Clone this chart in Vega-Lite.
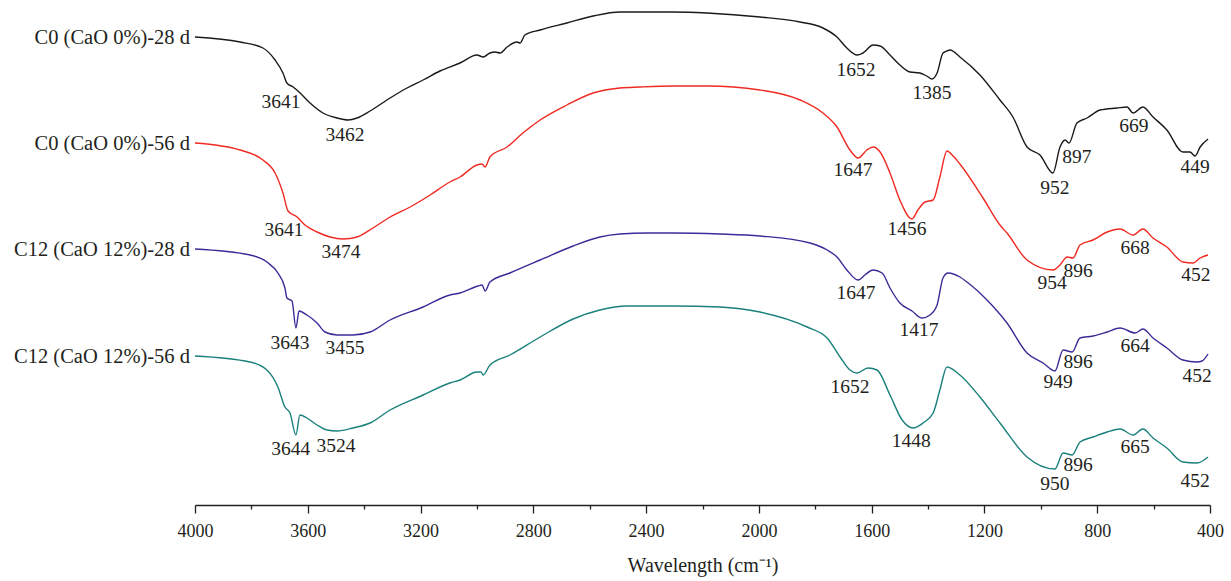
{
  "$schema": "https://vega.github.io/schema/vega-lite/v6.json",
  "autosize": {"type": "none"},
  "width": 1015,
  "height": 505,
  "padding": {"left": 195, "right": 21, "top": 0, "bottom": 76},
  "background": "white",
  "config": {"view": {"stroke": null}},
  "datasets": {
    "spectra": [
      {"s":"C0-28","x":4000,"v":37},{"s":"C0-28","x":3840,"v":42},{"s":"C0-28","x":3759,"v":48},{"s":"C0-28","x":3716,"v":60},{"s":"C0-28","x":3688,"v":73},{"s":"C0-28","x":3674,"v":83},{"s":"C0-28","x":3652,"v":87},{"s":"C0-28","x":3631,"v":92},{"s":"C0-28","x":3592,"v":103},{"s":"C0-28","x":3546,"v":113},{"s":"C0-28","x":3496,"v":118},{"s":"C0-28","x":3457,"v":120},{"s":"C0-28","x":3425,"v":118},{"s":"C0-28","x":3379,"v":111},{"s":"C0-28","x":3308,"v":98},{"s":"C0-28","x":3248,"v":88},{"s":"C0-28","x":3191,"v":80},{"s":"C0-28","x":3131,"v":71},{"s":"C0-28","x":3060,"v":63},{"s":"C0-28","x":3000,"v":55},{"s":"C0-28","x":2978,"v":57},{"s":"C0-28","x":2954,"v":53},{"s":"C0-28","x":2936,"v":52},{"s":"C0-28","x":2918,"v":53},{"s":"C0-28","x":2893,"v":47},{"s":"C0-28","x":2858,"v":42},{"s":"C0-28","x":2847,"v":43},{"s":"C0-28","x":2830,"v":35},{"s":"C0-28","x":2776,"v":30},{"s":"C0-28","x":2681,"v":23},{"s":"C0-28","x":2588,"v":16},{"s":"C0-28","x":2493,"v":12},{"s":"C0-28","x":2422,"v":12},{"s":"C0-28","x":2305,"v":12},{"s":"C0-28","x":2184,"v":13},{"s":"C0-28","x":1996,"v":17},{"s":"C0-28","x":1854,"v":22},{"s":"C0-28","x":1773,"v":28},{"s":"C0-28","x":1723,"v":37},{"s":"C0-28","x":1688,"v":48},{"s":"C0-28","x":1652,"v":55},{"s":"C0-28","x":1631,"v":53},{"s":"C0-28","x":1595,"v":45},{"s":"C0-28","x":1570,"v":46},{"s":"C0-28","x":1535,"v":55},{"s":"C0-28","x":1500,"v":65},{"s":"C0-28","x":1464,"v":72},{"s":"C0-28","x":1429,"v":73},{"s":"C0-28","x":1405,"v":76},{"s":"C0-28","x":1386,"v":79},{"s":"C0-28","x":1368,"v":73},{"s":"C0-28","x":1347,"v":53},{"s":"C0-28","x":1333,"v":51},{"s":"C0-28","x":1322,"v":50},{"s":"C0-28","x":1287,"v":57},{"s":"C0-28","x":1216,"v":75},{"s":"C0-28","x":1145,"v":100},{"s":"C0-28","x":1099,"v":117},{"s":"C0-28","x":1049,"v":147},{"s":"C0-28","x":1003,"v":155},{"s":"C0-28","x":957,"v":173},{"s":"C0-28","x":932,"v":147},{"s":"C0-28","x":914,"v":140},{"s":"C0-28","x":900,"v":143},{"s":"C0-28","x":872,"v":123},{"s":"C0-28","x":836,"v":118},{"s":"C0-28","x":790,"v":110},{"s":"C0-28","x":730,"v":108},{"s":"C0-28","x":694,"v":107},{"s":"C0-28","x":673,"v":113},{"s":"C0-28","x":638,"v":107},{"s":"C0-28","x":602,"v":117},{"s":"C0-28","x":553,"v":130},{"s":"C0-28","x":496,"v":152},{"s":"C0-28","x":471,"v":152},{"s":"C0-28","x":453,"v":156},{"s":"C0-28","x":435,"v":147},{"s":"C0-28","x":407,"v":139},

      {"s":"C0-56","x":4000,"v":143},{"s":"C0-56","x":3840,"v":150},{"s":"C0-56","x":3759,"v":160},{"s":"C0-56","x":3716,"v":173},{"s":"C0-56","x":3688,"v":193},{"s":"C0-56","x":3670,"v":211},{"s":"C0-56","x":3638,"v":217},{"s":"C0-56","x":3610,"v":225},{"s":"C0-56","x":3567,"v":232},{"s":"C0-56","x":3521,"v":237},{"s":"C0-56","x":3475,"v":239},{"s":"C0-56","x":3425,"v":237},{"s":"C0-56","x":3369,"v":228},{"s":"C0-56","x":3308,"v":217},{"s":"C0-56","x":3237,"v":207},{"s":"C0-56","x":3166,"v":195},{"s":"C0-56","x":3096,"v":182},{"s":"C0-56","x":3060,"v":177},{"s":"C0-56","x":3000,"v":165},{"s":"C0-56","x":2982,"v":164},{"s":"C0-56","x":2971,"v":167},{"s":"C0-56","x":2954,"v":157},{"s":"C0-56","x":2893,"v":147},{"s":"C0-56","x":2837,"v":133},{"s":"C0-56","x":2776,"v":120},{"s":"C0-56","x":2681,"v":105},{"s":"C0-56","x":2588,"v":93},{"s":"C0-56","x":2493,"v":88},{"s":"C0-56","x":2422,"v":87},{"s":"C0-56","x":2305,"v":86},{"s":"C0-56","x":2184,"v":86},{"s":"C0-56","x":1996,"v":90},{"s":"C0-56","x":1854,"v":100},{"s":"C0-56","x":1773,"v":113},{"s":"C0-56","x":1723,"v":127},{"s":"C0-56","x":1677,"v":150},{"s":"C0-56","x":1648,"v":158},{"s":"C0-56","x":1617,"v":150},{"s":"C0-56","x":1595,"v":147},{"s":"C0-56","x":1570,"v":152},{"s":"C0-56","x":1535,"v":173},{"s":"C0-56","x":1500,"v":200},{"s":"C0-56","x":1457,"v":219},{"s":"C0-56","x":1436,"v":210},{"s":"C0-56","x":1411,"v":202},{"s":"C0-56","x":1382,"v":200},{"s":"C0-56","x":1358,"v":177},{"s":"C0-56","x":1333,"v":151},{"s":"C0-56","x":1311,"v":156},{"s":"C0-56","x":1287,"v":164},{"s":"C0-56","x":1205,"v":198},{"s":"C0-56","x":1145,"v":225},{"s":"C0-56","x":1120,"v":233},{"s":"C0-56","x":1049,"v":260},{"s":"C0-56","x":957,"v":270},{"s":"C0-56","x":932,"v":265},{"s":"C0-56","x":907,"v":257},{"s":"C0-56","x":886,"v":258},{"s":"C0-56","x":861,"v":245},{"s":"C0-56","x":815,"v":240},{"s":"C0-56","x":765,"v":232},{"s":"C0-56","x":719,"v":229},{"s":"C0-56","x":673,"v":235},{"s":"C0-56","x":638,"v":229},{"s":"C0-56","x":602,"v":238},{"s":"C0-56","x":553,"v":247},{"s":"C0-56","x":496,"v":262},{"s":"C0-56","x":460,"v":263},{"s":"C0-56","x":435,"v":258},{"s":"C0-56","x":407,"v":255},

      {"s":"C12-28","x":4000,"v":249},{"s":"C12-28","x":3805,"v":255},{"s":"C12-28","x":3745,"v":262},{"s":"C12-28","x":3706,"v":273},{"s":"C12-28","x":3681,"v":288},{"s":"C12-28","x":3674,"v":298},{"s":"C12-28","x":3656,"v":301},{"s":"C12-28","x":3642,"v":328},{"s":"C12-28","x":3631,"v":311},{"s":"C12-28","x":3603,"v":315},{"s":"C12-28","x":3567,"v":323},{"s":"C12-28","x":3539,"v":332},{"s":"C12-28","x":3496,"v":335},{"s":"C12-28","x":3440,"v":335},{"s":"C12-28","x":3379,"v":332},{"s":"C12-28","x":3308,"v":320},{"s":"C12-28","x":3191,"v":307},{"s":"C12-28","x":3096,"v":295},{"s":"C12-28","x":3060,"v":293},{"s":"C12-28","x":2996,"v":286},{"s":"C12-28","x":2982,"v":285},{"s":"C12-28","x":2971,"v":291},{"s":"C12-28","x":2954,"v":282},{"s":"C12-28","x":2883,"v":273},{"s":"C12-28","x":2776,"v":260},{"s":"C12-28","x":2659,"v":246},{"s":"C12-28","x":2564,"v":237},{"s":"C12-28","x":2493,"v":234},{"s":"C12-28","x":2397,"v":233},{"s":"C12-28","x":2305,"v":233},{"s":"C12-28","x":2138,"v":234},{"s":"C12-28","x":1996,"v":236},{"s":"C12-28","x":1819,"v":243},{"s":"C12-28","x":1758,"v":250},{"s":"C12-28","x":1723,"v":257},{"s":"C12-28","x":1688,"v":270},{"s":"C12-28","x":1648,"v":280},{"s":"C12-28","x":1624,"v":275},{"s":"C12-28","x":1595,"v":270},{"s":"C12-28","x":1563,"v":273},{"s":"C12-28","x":1535,"v":288},{"s":"C12-28","x":1500,"v":303},{"s":"C12-28","x":1457,"v":311},{"s":"C12-28","x":1421,"v":318},{"s":"C12-28","x":1393,"v":315},{"s":"C12-28","x":1368,"v":305},{"s":"C12-28","x":1347,"v":278},{"s":"C12-28","x":1329,"v":273},{"s":"C12-28","x":1287,"v":277},{"s":"C12-28","x":1262,"v":282},{"s":"C12-28","x":1191,"v":300},{"s":"C12-28","x":1120,"v":323},{"s":"C12-28","x":1049,"v":353},{"s":"C12-28","x":992,"v":363},{"s":"C12-28","x":950,"v":371},{"s":"C12-28","x":921,"v":350},{"s":"C12-28","x":889,"v":352},{"s":"C12-28","x":861,"v":338},{"s":"C12-28","x":815,"v":336},{"s":"C12-28","x":765,"v":332},{"s":"C12-28","x":719,"v":328},{"s":"C12-28","x":665,"v":333},{"s":"C12-28","x":638,"v":329},{"s":"C12-28","x":602,"v":338},{"s":"C12-28","x":553,"v":348},{"s":"C12-28","x":496,"v":360},{"s":"C12-28","x":446,"v":362},{"s":"C12-28","x":428,"v":361},{"s":"C12-28","x":407,"v":354},

      {"s":"C12-56","x":4000,"v":356},{"s":"C12-56","x":3805,"v":362},{"s":"C12-56","x":3745,"v":370},{"s":"C12-56","x":3706,"v":387},{"s":"C12-56","x":3681,"v":407},{"s":"C12-56","x":3663,"v":413},{"s":"C12-56","x":3642,"v":435},{"s":"C12-56","x":3628,"v":415},{"s":"C12-56","x":3603,"v":418},{"s":"C12-56","x":3567,"v":425},{"s":"C12-56","x":3532,"v":430},{"s":"C12-56","x":3496,"v":431},{"s":"C12-56","x":3440,"v":428},{"s":"C12-56","x":3379,"v":423},{"s":"C12-56","x":3308,"v":410},{"s":"C12-56","x":3191,"v":395},{"s":"C12-56","x":3096,"v":383},{"s":"C12-56","x":3060,"v":380},{"s":"C12-56","x":3000,"v":372},{"s":"C12-56","x":2986,"v":372},{"s":"C12-56","x":2978,"v":375},{"s":"C12-56","x":2954,"v":365},{"s":"C12-56","x":2883,"v":355},{"s":"C12-56","x":2776,"v":337},{"s":"C12-56","x":2659,"v":319},{"s":"C12-56","x":2564,"v":310},{"s":"C12-56","x":2468,"v":306},{"s":"C12-56","x":2305,"v":306},{"s":"C12-56","x":2138,"v":307},{"s":"C12-56","x":1996,"v":312},{"s":"C12-56","x":1829,"v":327},{"s":"C12-56","x":1758,"v":338},{"s":"C12-56","x":1712,"v":357},{"s":"C12-56","x":1677,"v":370},{"s":"C12-56","x":1652,"v":373},{"s":"C12-56","x":1613,"v":368},{"s":"C12-56","x":1581,"v":370},{"s":"C12-56","x":1535,"v":395},{"s":"C12-56","x":1492,"v":420},{"s":"C12-56","x":1453,"v":428},{"s":"C12-56","x":1418,"v":423},{"s":"C12-56","x":1382,"v":413},{"s":"C12-56","x":1358,"v":390},{"s":"C12-56","x":1333,"v":367},{"s":"C12-56","x":1287,"v":375},{"s":"C12-56","x":1216,"v":397},{"s":"C12-56","x":1145,"v":423},{"s":"C12-56","x":1049,"v":457},{"s":"C12-56","x":950,"v":469},{"s":"C12-56","x":921,"v":453},{"s":"C12-56","x":889,"v":455},{"s":"C12-56","x":861,"v":442},{"s":"C12-56","x":815,"v":437},{"s":"C12-56","x":765,"v":432},{"s":"C12-56","x":719,"v":429},{"s":"C12-56","x":673,"v":435},{"s":"C12-56","x":638,"v":429},{"s":"C12-56","x":602,"v":438},{"s":"C12-56","x":553,"v":448},{"s":"C12-56","x":496,"v":462},{"s":"C12-56","x":446,"v":463},{"s":"C12-56","x":407,"v":457}
    ],
    "peaks": [
      {"t":"3641","x":3695,"v":102},{"t":"3462","x":3468,"v":135},{"t":"1652","x":1656,"v":70},{"t":"1385","x":1386,"v":93},{"t":"952","x":950,"v":188},{"t":"897","x":872,"v":157},{"t":"669","x":670,"v":126},{"t":"449","x":453,"v":167},
      {"t":"3641","x":3684,"v":230},{"t":"3474","x":3482,"v":252},{"t":"1647","x":1666,"v":170},{"t":"1456","x":1475,"v":229},{"t":"954","x":960,"v":283},{"t":"896","x":868,"v":271},{"t":"668","x":666,"v":248},{"t":"452","x":450,"v":275},
      {"t":"3643","x":3663,"v":343},{"t":"3455","x":3468,"v":348},{"t":"1647","x":1656,"v":293},{"t":"1417","x":1432,"v":330},{"t":"949","x":939,"v":382},{"t":"896","x":868,"v":362},{"t":"664","x":666,"v":346},{"t":"452","x":446,"v":376},
      {"t":"3644","x":3660,"v":449},{"t":"3524","x":3500,"v":446},{"t":"1652","x":1677,"v":387},{"t":"1448","x":1460,"v":441},{"t":"950","x":950,"v":484},{"t":"896","x":868,"v":465},{"t":"665","x":666,"v":447},{"t":"452","x":453,"v":481}
    ],
    "names": [
      {"name":"C0 (CaO 0%)-28 d","x":4000,"v":38},
      {"name":"C0 (CaO 0%)-56 d","x":4000,"v":144},
      {"name":"C12 (CaO 12%)-28 d","x":4000,"v":250},
      {"name":"C12 (CaO 12%)-56 d","x":4000,"v":357}
    ]
  },
  "layer": [
    {
      "data": {"name": "spectra"},
      "mark": {"type": "line", "strokeWidth": 1.4, "interpolate": "monotone", "clip": false},
      "encoding": {
        "x": {
          "field": "x", "type": "quantitative",
          "scale": {"domain": [400, 4000], "reverse": true, "nice": false, "zero": false},
          "axis": {
            "values": [4000,3800,3600,3400,3200,3000,2800,2600,2400,2200,2000,1800,1600,1400,1200,1000,800,600,400],
            "labelExpr": "datum.value % 400 === 0 ? datum.label : ''",
            "format": "d",
            "grid": false,
            "domainColor": "#231f20",
            "domainWidth": 1.3,
            "tickColor": "#231f20",
            "tickWidth": 1.3,
            "tickSize": {"condition": {"test": "datum.value % 400 === 0", "value": 8}, "value": 4},
            "labelFont": "Liberation Serif",
            "labelFontSize": 18,
            "labelColor": "#231f20",
            "labelPadding": 9,
            "labelFlush": false,
            "labelOverlap": false,
            "title": "Wavelength (cm⁻¹)",
            "titleFont": "Liberation Serif",
            "titleFontSize": 20,
            "titleFontWeight": "normal",
            "titleColor": "#231f20",
            "titlePadding": 15
          }
        },
        "y": {
          "field": "v", "type": "quantitative",
          "scale": {"domain": [0, 505], "reverse": true, "nice": false, "zero": false},
          "axis": null
        },
        "color": {
          "field": "s", "type": "nominal",
          "scale": {"domain": ["C0-28","C0-56","C12-28","C12-56"], "range": ["#1a1a1a","#f02a22","#3a2c98","#1a807b"]},
          "legend": null
        }
      }
    },
    {
      "data": {"name": "peaks"},
      "mark": {"type": "text", "font": "Liberation Serif", "fontSize": 19.5, "color": "#231f20", "align": "center", "baseline": "middle"},
      "encoding": {
        "x": {"field": "x", "type": "quantitative"},
        "y": {"field": "v", "type": "quantitative"},
        "text": {"field": "t"}
      }
    },
    {
      "data": {"name": "names"},
      "mark": {"type": "text", "font": "Liberation Serif", "fontSize": 20.5, "color": "#231f20", "align": "right", "baseline": "middle", "dx": -5},
      "encoding": {
        "x": {"field": "x", "type": "quantitative"},
        "y": {"field": "v", "type": "quantitative"},
        "text": {"field": "name"}
      }
    }
  ]
}
